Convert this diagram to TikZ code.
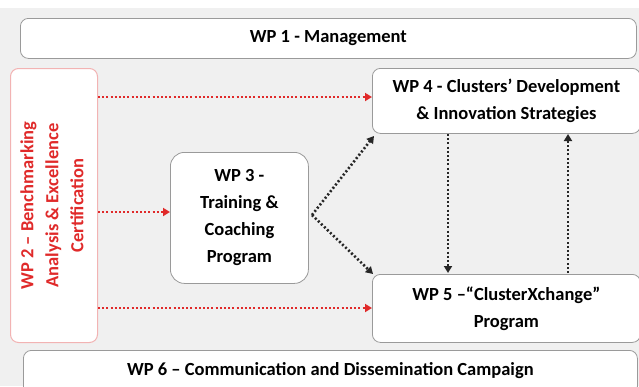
\documentclass[tikz,border=0pt]{standalone}
\usepackage{fontspec}
\setmainfont{Carlito}
\usetikzlibrary{arrows.meta}
\definecolor{wpred}{HTML}{E02A2A}
\definecolor{wpborder}{HTML}{9A9A9A}
\definecolor{wppink}{HTML}{F2B3B3}
\definecolor{bgray}{HTML}{F0F0F0}
\begin{document}
\begin{tikzpicture}[x=1pt,y=-1pt,
  wpbox/.style={draw=wpborder, line width=0.8pt, fill=white, rounded corners=8pt, font=\bfseries\fontsize{18.5}{27}\selectfont, align=center, inner sep=0pt},
  redbox/.style={draw=wppink, line width=1pt, fill=white, rounded corners=8pt, inner sep=0pt},
  redarr/.style={draw=wpred, line width=2.6pt, dash pattern=on 2pt off 2.2pt, -{Triangle[length=7pt,width=8pt]}},
  blkarr/.style={draw=black!85, line width=2.6pt, dash pattern=on 2pt off 2.2pt, -{Triangle[length=7pt,width=8pt]}}
]
\useasboundingbox (0,0) rectangle (639,386);
\fill[bgray] (0,8) rectangle (639,386);
\node[wpbox, minimum width=616pt, minimum height=40pt, anchor=north west] (wp1) at (20,18) {WP 1 - Management};
\node[redbox, minimum width=87pt, minimum height=274pt, anchor=north west] (wp2) at (10,68) {};
\node[rotate=90, text=wpred, font=\bfseries\fontsize{18.5}{25}\selectfont, align=center] (wp2t) at ([xshift=-2pt]wp2.center) {WP 2 – Benchmarking\\Analysis \& Excellence\\Certification};
\node[wpbox, minimum width=138pt, minimum height=131pt, anchor=north west, rounded corners=14pt] (wp3) at (170,152) {WP 3 -\\Training \&\\Coaching\\Program};
\node[wpbox, minimum width=268pt, minimum height=65pt, anchor=north west] (wp4) at (372,68) {WP 4 - Clusters’ Development\\\& Innovation Strategies};
\node[wpbox, minimum width=268pt, minimum height=68pt, anchor=north west] (wp5) at (372,274) {WP 5 –“ClusterXchange”\\Program};
\node[wpbox, minimum width=614pt, minimum height=44pt, anchor=north west] (wp6) at (23,350) {\raisebox{6pt}{WP 6 – Communication and Dissemination Campaign}};
\coordinate (r1) at (wp2.east |- 0,97);
\coordinate (r2) at (wp2.east |- 0,212);
\coordinate (r3) at (wp2.east |- 0,308);
\draw[redarr] (r1) -- (wp4.west |- r1);
\draw[redarr] (r2) -- (wp3.west |- r2);
\draw[redarr] (r3) -- (wp5.west |- r3);
\coordinate (b0) at (312,215);
\coordinate (b4) at (374,136);
\coordinate (b5) at (373,274);
\draw[blkarr] (b0) -- (b4);
\draw[blkarr] (b0) -- (b5);
\coordinate (d1) at (448,134);
\coordinate (d2) at (448,273);
\coordinate (u1) at (568,273);
\coordinate (u2) at (568,134);
\draw[blkarr] (d1) -- (d2);
\draw[blkarr] (u1) -- (u2);
\end{tikzpicture}
\end{document}
